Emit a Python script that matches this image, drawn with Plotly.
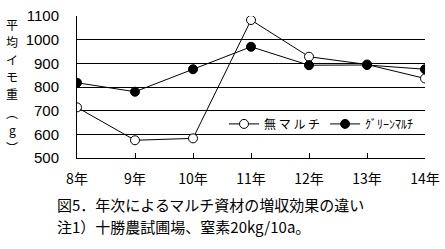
import plotly.graph_objects as go

years = ["8年", "9年", "10年", "11年", "12年", "13年", "14年"]
no_mulch = [714, 575, 583, 1083, 928, 895, 836]
green_mulch = [818, 780, 875, 970, 892, 893, 875]
y_ticks = [500, 600, 700, 800, 900, 1000, 1100]

FONT = "Noto Sans CJK JP"
NUMFONT = "Liberation Sans"

fig = go.Figure()
fig.add_trace(go.Scatter(
    x=years, y=no_mulch, name="無 マ ル チ", mode="lines+markers",
    line=dict(color="black", width=1),
    marker=dict(symbol="circle", size=9, color="white", line=dict(color="black", width=1)),
))
fig.add_trace(go.Scatter(
    x=years, y=green_mulch, name="ｸﾞﾘｰﾝﾏﾙﾁ", mode="lines+markers",
    line=dict(color="black", width=1),
    marker=dict(symbol="circle", size=9, color="black", line=dict(color="black", width=1)),
))

fig.update_layout(
    width=445, height=249,
    margin=dict(l=77, r=20, t=16, b=91, autoexpand=False),
    paper_bgcolor="white", plot_bgcolor="white",
    font=dict(family=FONT, size=13, color="black"),
    showlegend=True,
    legend=dict(orientation="h", x=(224 - 77) / 348, y=0.24, xanchor="left", yanchor="middle",
                bgcolor="rgba(0,0,0,0)", font=dict(size=12, family=FONT),
                itemwidth=30, tracegroupgap=0),
    xaxis=dict(
        type="category", range=[0, 6], showgrid=False, automargin=False,
        showline=True, linecolor="black", linewidth=1,
        ticks="inside", ticklen=5, tickcolor="black",
        ticklabelstandoff=8,
        tickfont=dict(size=14, family=FONT),
    ),
    yaxis=dict(
        range=[500, 1100], tickvals=y_ticks, automargin=False,
        showgrid=True, gridcolor="black", gridwidth=1,
        showline=True, linecolor="black", linewidth=1,
        ticks="", ticklabelstandoff=14,
        tickfont=dict(size=15, family=NUMFONT),
        zeroline=False,
    ),
)

plot_top, plot_h = 16, 142


def py_to_paper(py):
    return (plot_top + plot_h - py) / plot_h


# vertical y-axis title, one character per annotation
title_chars = ["平", "均", "イ", "モ", "重", "︵", "g", "︶"]
title_px_y = [24, 41.5, 59, 76.5, 94, 112, 129.5, 147]
for ch, py in zip(title_chars, title_px_y):
    fig.add_annotation(
        text=ch, xref="paper", yref="paper",
        x=(12 - 77) / 348, y=py_to_paper(py), xanchor="center", yanchor="middle",
        showarrow=False, font=dict(size=12, family=FONT),
    )

# caption lines
captions = ["図5．年次によるマルチ資材の増収効果の違い", "注1）十勝農試圃場、窒素20kg/10a。"]
caption_px_y = [204, 226]
for txt, py in zip(captions, caption_px_y):
    fig.add_annotation(
        text=txt, xref="paper", yref="paper",
        x=(55 - 77) / 348, y=py_to_paper(py), xanchor="left", yanchor="middle",
        showarrow=False, font=dict(size=15, family=FONT), align="left",
    )

fig.write_html("out.html")
